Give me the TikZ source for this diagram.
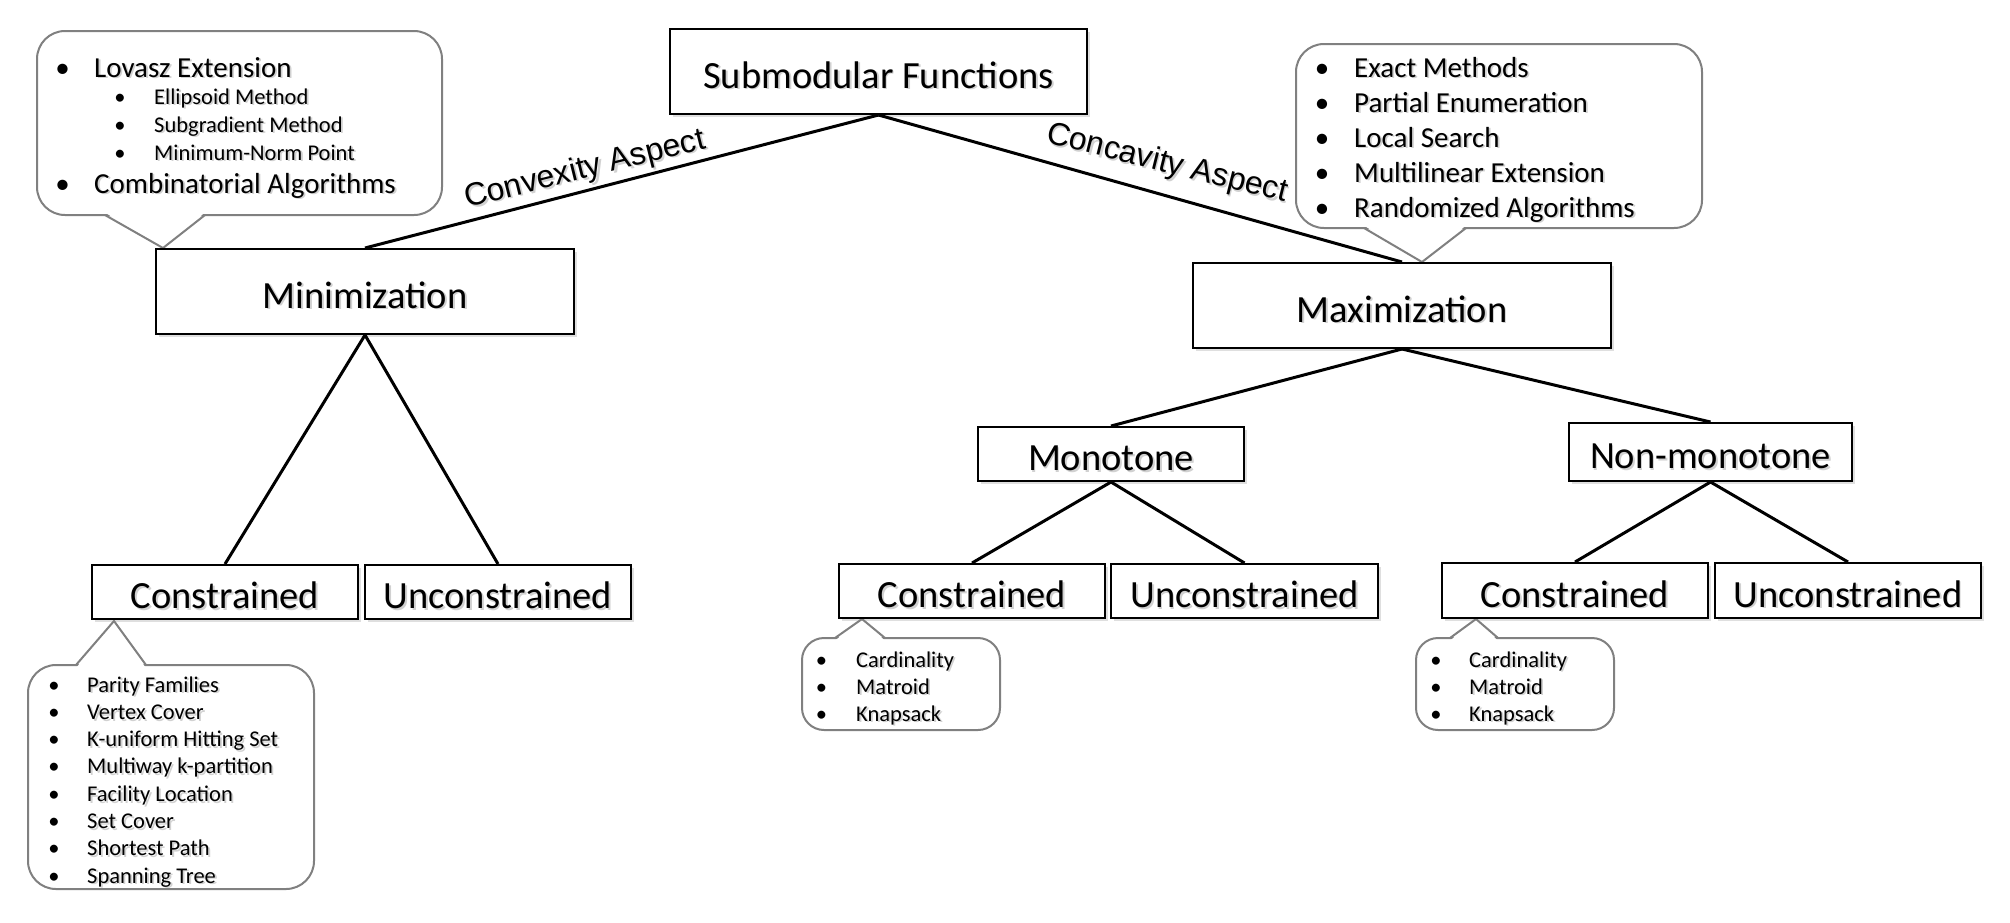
\documentclass[tikz,border=0pt]{standalone}
\usepackage{fontspec}
\setmainfont{Carlito}
\newfontfamily\arialf{Liberation Sans}
\usetikzlibrary{shadows}
\newcommand\shd[1]{\leavevmode\rlap{\kern1.8pt\raisebox{-1.8pt}{\textcolor{black!18}{#1}}}#1}
\begin{document}
\begin{tikzpicture}[x=1pt,y=-1pt,
  box/.style={draw=black, line width=2pt, fill=white, inner sep=0pt,
    font=\fontsize{38.5}{46}\selectfont, text height=33pt, text depth=0pt,
    drop shadow={shadow xshift=2.5pt,shadow yshift=-2.5pt,opacity=0.25}},
  conn/.style={line width=3pt, draw=black},
  callout/.style={draw=black!50, line width=2pt, fill=white},
  ptr/.style={draw=black!50, line width=2pt, line join=miter},
  bigitem/.style={anchor=base west, inner sep=0pt, font=\fontsize{29}{34}\selectfont},
  smallitem/.style={anchor=base west, inner sep=0pt, font=\fontsize{22.5}{27}\selectfont},
  bigbul/.style={anchor=base, inner sep=0pt, font=\fontsize{29}{34}\selectfont},
  smallbul/.style={anchor=base, inner sep=0pt, font=\fontsize{22.5}{27}\selectfont},
  aspect/.style={anchor=base, inner sep=0pt, font=\arialf\fontsize{32}{38}\selectfont}]
\useasboundingbox (0,0) rectangle (2010,922);
\fill[white] (0,0) rectangle (2010,922);

% ---------- callouts ----------
% top-left
\draw[callout, rounded corners=28pt] (37,31) rectangle (442,215);
\fill[white] (106,213.2) -- (163,248) -- (204,213.2) -- cycle;
\draw[ptr] (105,215) -- (163,248) -- (205,215);
% top-right
\draw[callout, rounded corners=28pt] (1296,44) rectangle (1702,228);
\fill[white] (1365,226.2) -- (1422,262) -- (1465,226.2) -- cycle;
\draw[ptr] (1364,228) -- (1422,262) -- (1466,228);
% bottom-left
\draw[callout, rounded corners=28pt] (28,665) rectangle (314,889);
\fill[white] (77,666.8) -- (114,621) -- (145,666.8) -- cycle;
\draw[ptr] (76,665) -- (114,621) -- (146,665);
% monotone constrained
\draw[callout, rounded corners=22pt] (802,638) rectangle (1000,730);
\fill[white] (836,639.8) -- (862,619) -- (884,639.8) -- cycle;
\draw[ptr] (835,638) -- (862,619) -- (885,638);
% non-monotone constrained
\draw[callout, rounded corners=22pt] (1416,638) rectangle (1614,730);
\fill[white] (1451,639.8) -- (1476,619) -- (1497,639.8) -- cycle;
\draw[ptr] (1450,638) -- (1476,619) -- (1498,638);

% ---------- callout texts ----------
\node[bigbul] (b1) at (62.5,77) {•};
\node[bigitem] (t1) at (94,77) {\shd{Lovasz Extension}};
\node[smallbul] (b2) at (120,104) {•};
\node[smallitem] (t2) at (154,104) {\shd{Ellipsoid Method}};
\node[smallbul] (b3) at (120,132) {•};
\node[smallitem] (t3) at (154,132) {\shd{Subgradient Method}};
\node[smallbul] (b4) at (120,160) {•};
\node[smallitem] (t4) at (154,160) {\shd{Minimum-Norm Point}};
\node[bigbul] (b5) at (62.5,193) {•};
\node[bigitem] (t5) at (94,193) {\shd{Combinatorial Algorithms}};

\node[bigbul] (r1b) at (1322,77) {•};
\node[bigitem] (r1) at (1354,77) {\shd{Exact Methods}};
\node[bigbul] (r2b) at (1322,112) {•};
\node[bigitem] (r2) at (1354,112) {\shd{Partial Enumeration}};
\node[bigbul] (r3b) at (1322,147) {•};
\node[bigitem] (r3) at (1354,147) {\shd{Local Search}};
\node[bigbul] (r4b) at (1322,182) {•};
\node[bigitem] (r4) at (1354,182) {\shd{Multilinear Extension}};
\node[bigbul] (r5b) at (1322,217) {•};
\node[bigitem] (r5) at (1354,217) {\shd{Randomized Algorithms}};

\node[smallbul] (l1b) at (54,692) {•};
\node[smallitem] (l1) at (87,692) {\shd{Parity Families}};
\node[smallbul] (l2b) at (54,719.3) {•};
\node[smallitem] (l2) at (87,719.3) {\shd{Vertex Cover}};
\node[smallbul] (l3b) at (54,746.6) {•};
\node[smallitem] (l3) at (87,746.6) {\shd{K-uniform Hitting Set}};
\node[smallbul] (l4b) at (54,773.9) {•};
\node[smallitem] (l4) at (87,773.9) {\shd{Multiway k-partition}};
\node[smallbul] (l5b) at (54,801.2) {•};
\node[smallitem] (l5) at (87,801.2) {\shd{Facility Location}};
\node[smallbul] (l6b) at (54,828.5) {•};
\node[smallitem] (l6) at (87,828.5) {\shd{Set Cover}};
\node[smallbul] (l7b) at (54,855.8) {•};
\node[smallitem] (l7) at (87,855.8) {\shd{Shortest Path}};
\node[smallbul] (l8b) at (54,883.1) {•};
\node[smallitem] (l8) at (87,883.1) {\shd{Spanning Tree}};

\node[smallbul] (m1b) at (821.5,667) {•};
\node[smallitem] (m1) at (856,667) {\shd{Cardinality}};
\node[smallbul] (m2b) at (821.5,694) {•};
\node[smallitem] (m2) at (856,694) {\shd{Matroid}};
\node[smallbul] (m3b) at (821.5,721) {•};
\node[smallitem] (m3) at (856,721) {\shd{Knapsack}};

\node[smallbul] (n1b) at (1436,667) {•};
\node[smallitem] (n1) at (1469,667) {\shd{Cardinality}};
\node[smallbul] (n2b) at (1436,694) {•};
\node[smallitem] (n2) at (1469,694) {\shd{Matroid}};
\node[smallbul] (n3b) at (1436,721) {•};
\node[smallitem] (n3) at (1469,721) {\shd{Knapsack}};

% ---------- boxes ----------
\node[box, minimum width=417pt, minimum height=85pt] (sub) at (878.5,71.5) {\shd{Submodular Functions}};
\node[box, minimum width=418pt, minimum height=85pt] (min) at (365,291.5) {\shd{Minimization}};
\node[box, minimum width=418pt, minimum height=85pt] (max) at (1402,305.5) {\shd{Maximization}};
\node[box, minimum width=266pt, minimum height=54pt] (mono) at (1111,454) {\shd{Monotone}};
\node[box, minimum width=283pt, minimum height=58pt] (nonmono) at (1710.5,452) {\shd{Non-monotone}};
\node[box, minimum width=266pt, minimum height=54pt] (minc) at (225,592) {\shd{Constrained}};
\node[box, minimum width=266pt, minimum height=54pt] (minu) at (498,592) {\shd{Unconstrained}};
\node[box, minimum width=266pt, minimum height=54pt] (monoc) at (972,591) {\shd{Constrained}};
\node[box, minimum width=267pt, minimum height=54pt] (monou) at (1244.5,591) {\shd{Unconstrained}};
\node[box, minimum width=266pt, minimum height=55pt] (nonc) at (1575,590.5) {\shd{Constrained}};
\node[box, minimum width=266pt, minimum height=55pt] (nonu) at (1848,590.5) {\shd{Unconstrained}};

% ---------- connectors ----------
\draw[conn] (sub.south) -- (min.north);
\draw[conn] (sub.south) -- (max.north);
\draw[conn] (min.south) -- (minc.north);
\draw[conn] (min.south) -- (minu.north);
\draw[conn] (max.south) -- (mono.north);
\draw[conn] (max.south) -- (nonmono.north);
\draw[conn] (mono.south) -- (monoc.north);
\draw[conn] (mono.south) -- (monou.north);
\draw[conn] (nonmono.south) -- (nonc.north);
\draw[conn] (nonmono.south) -- (nonu.north);

% ---------- labels ----------
\node[aspect, rotate=14] (cvx) at (587,178) {\shd{Convexity Aspect}};
\node[aspect, rotate=-14] (ccv) at (1165,172) {\shd{Concavity Aspect}};
\end{tikzpicture}
\end{document}
